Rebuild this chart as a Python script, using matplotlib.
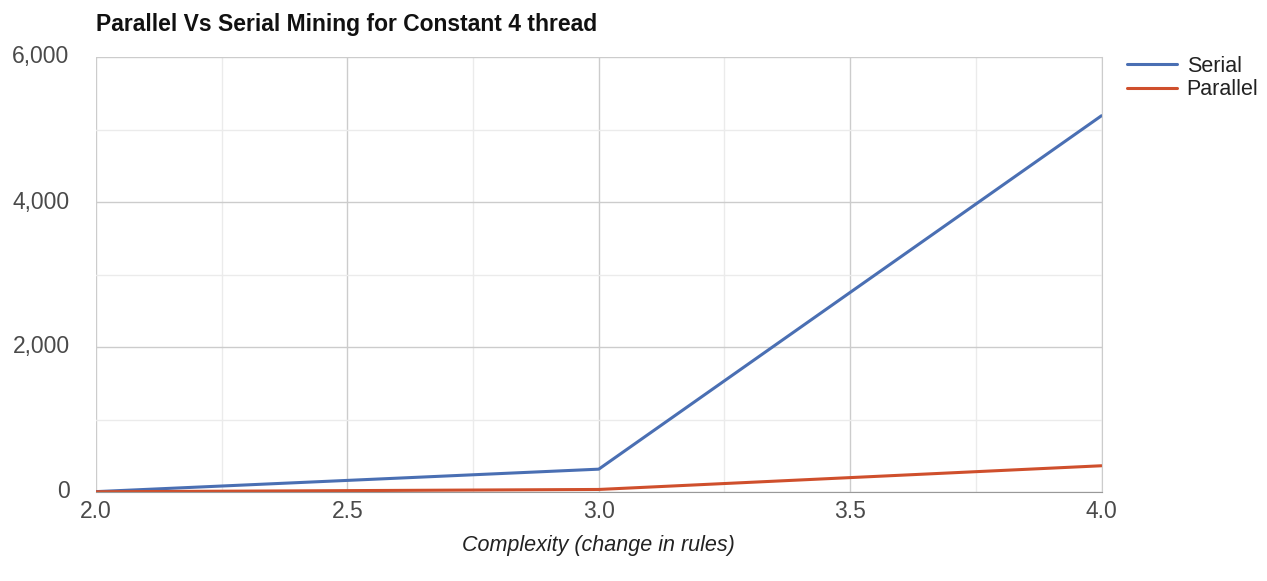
import matplotlib
matplotlib.use("Agg")
import matplotlib.pyplot as plt
from matplotlib.ticker import FuncFormatter, MultipleLocator

complexity = [2.0, 3.0, 4.0]
serial = [5, 315, 5190]
parallel = [3, 35, 362]
x_ticks = [2.0, 2.5, 3.0, 3.5, 4.0]
y_ticks = [0, 2000, 4000, 6000]

plt.rcParams['font.family'] = ['Liberation Sans', 'DejaVu Sans']

W, H = 1267, 581
fig = plt.figure(figsize=(W / 100, H / 100), dpi=100)
ax = fig.add_axes([96 / W, 1 - 492 / H, (1101.5 - 96) / W, (492 - 57) / H])

ax.plot(complexity, serial, color='#4a6fb3', lw=2.2, label='Serial', solid_capstyle='round')
ax.plot(complexity, parallel, color='#cf4f2c', lw=2.2, label='Parallel', solid_capstyle='round')

ax.set_xlim(2.0, 4.0)
ax.set_ylim(0, 6000)
ax.set_xticks(x_ticks)
ax.set_yticks(y_ticks)
ax.xaxis.set_minor_locator(MultipleLocator(0.25))
ax.yaxis.set_minor_locator(MultipleLocator(1000))
ax.xaxis.set_major_formatter(FuncFormatter(lambda v, p: f"{v:.1f}"))
ax.yaxis.set_major_formatter(FuncFormatter(lambda v, p: f"{int(v):,}"))

ax.grid(True, which='major', color='#cccccc', lw=1.0)
ax.grid(True, which='minor', color='#ebebeb', lw=1.0)
ax.set_axisbelow(True)
for s in ['top', 'left']:
    ax.spines[s].set_visible(False)
ax.spines['right'].set_color('#cccccc')
ax.spines['bottom'].set_color('#999999')
ax.tick_params(which='both', length=0)
ax.tick_params(axis='x', colors='#4a4a4a', labelsize=16.5, pad=6)
ax.tick_params(axis='y', colors='#4a4a4a', labelsize=16.5, pad=19)
for lbl in ax.get_yticklabels():
    lbl.set_verticalalignment('center')

fig.text(598 / W, 1 - 545 / H, 'Complexity (change in rules)', fontsize=15.5,
         style='italic', color='#222222', ha='center', va='center')

fig.text(96 / W, 1 - 24 / H, 'Parallel Vs Serial Mining for Constant 4 thread',
         fontsize=16.5, fontweight='bold', color='#111111', va='center', ha='left')

leg = ax.legend(loc='upper left', bbox_to_anchor=(1127 / W, 1 - 56 / H),
                bbox_transform=fig.transFigure, frameon=False, fontsize=15.5,
                handlelength=2.3, handletextpad=0.47, labelspacing=0.1,
                borderpad=0, borderaxespad=0, labelcolor='#222222')

fig.savefig('out.png', dpi=100, facecolor='white')
